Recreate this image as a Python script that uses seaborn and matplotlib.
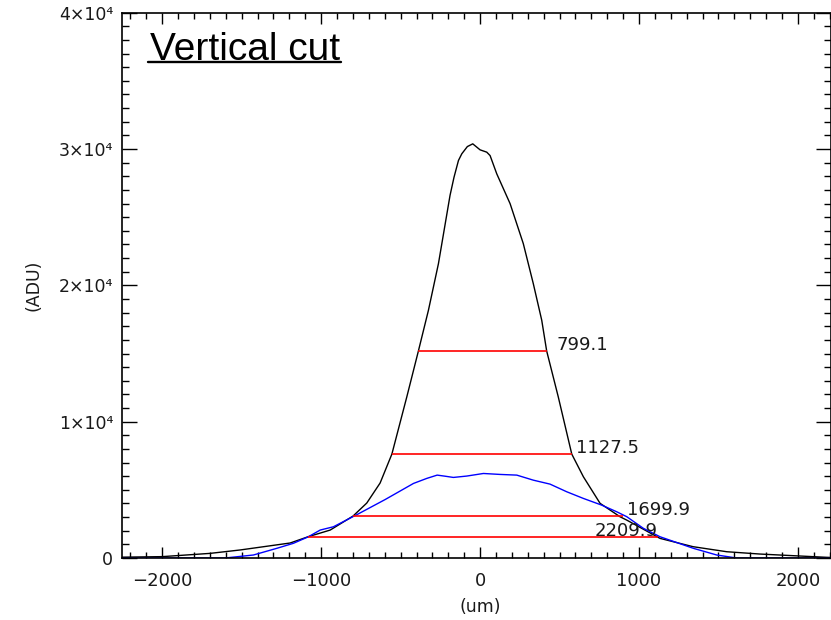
import numpy as np
import pandas as pd
import matplotlib
matplotlib.use("Agg")
import matplotlib.pyplot as plt
import seaborn as sns
from matplotlib.ticker import MultipleLocator, FixedLocator, FixedFormatter
from matplotlib.lines import Line2D

# ---------------- data ----------------
black_x = [-2255, -2000, -1698, -1509, -1195, -1082, -943, -799, -713, -629, -555,
           -461, -388, -325, -262, -189, -164, -136, -115, -80, -46, 0, 42, 63,
           105, 189, 272, 335, 388, 419, 492, 577, 650, 755, 880, 923, 1132,
           1340, 1552, 1761, 2180, 2205]
black_y = [60, 100, 340, 590, 1100, 1560, 2050, 3080, 4030, 5500, 7620,
           11820, 15190, 18170, 21590, 26600, 27930, 29160, 29650, 30180, 30380, 29940, 29770, 29520,
           28180, 25990, 23060, 20120, 17440, 15190, 11820, 7620, 5960, 4010, 3030, 2780, 1440,
           830, 460, 290, 50, 40]

blue_x = [-2255, -1604, -1426, -1279, -1174, -1080, -1006, -923, -780, -597, -419,
          -335, -270, -220, -168, -84, 21, 126, 231, 335, 440, 545, 650, 765,
          860, 923, 1027, 1132, 1342, 1489, 1614, 2205]
blue_y = [0, 0, 220, 710, 1080, 1560, 2050, 2290, 3150, 4290, 5470,
          5840, 6080, 6000, 5910, 6010, 6200, 6130, 6080, 5710, 5420, 4860, 4370, 3880,
          3390, 3030, 2180, 1560, 710, 220, 0, 0]

width_levels = [15190, 7620, 3080, 1560]
width_left = [-388, -555, -799, -1082]
width_right = [419, 577, 899, 1119]
width_labels = ["799.1", "1127.5", "1699.9", "2209.9"]

y_ticks = [0, 10000, 20000, 30000, 40000]
y_tick_labels = ["0", "1×10⁴", "2×10⁴", "3×10⁴", "4×10⁴"]

title_text = "Vertical cut"
x_label = "(um)"
y_label = "(ADU)"

# ---------------- style ----------------
sns.set_style("ticks")
plt.rcParams["font.family"] = ["DejaVu Sans"]

fig = plt.figure(figsize=(8.31, 6.20), dpi=100)
ax = fig.add_axes([121.7 / 831, 62 / 620, (830.5 - 121.7) / 831, (558 - 12.7) / 620])

df_black = pd.DataFrame({"x": black_x, "y": black_y})
df_blue = pd.DataFrame({"x": blue_x, "y": blue_y})
sns.lineplot(data=df_black, x="x", y="y", ax=ax, color="black", lw=1.0,
             estimator=None, sort=False)
sns.lineplot(data=df_blue, x="x", y="y", ax=ax, color="#0000ff", lw=1.0,
             estimator=None, sort=False)

ax.hlines(width_levels, width_left, width_right, colors="#ff0000", lw=1.2, zorder=3)

# width labels: offsets in pixels from the right end of each line
label_dx = [10, 4, 4, 0]
label_ha = ["left", "left", "left", "right"]
for lvl, xr, txt, dx, ha in zip(width_levels, width_right, width_labels, label_dx, label_ha):
    ax.annotate(txt, (xr, lvl), xytext=(dx * 0.72, 0.5), textcoords="offset points",
                ha=ha, va="baseline", fontsize=13, color="#1a1a1a")

ax.set_xlim(-2255, 2205)
ax.set_ylim(0, 40000)

ax.xaxis.set_major_locator(MultipleLocator(1000))
ax.xaxis.set_minor_locator(MultipleLocator(100))
ax.yaxis.set_major_locator(FixedLocator(y_ticks))
ax.yaxis.set_major_formatter(FixedFormatter(y_tick_labels))
ax.yaxis.set_minor_locator(MultipleLocator(1000))

ax.tick_params(which="both", direction="in", top=True, right=True, color="black", width=1.0)
ax.tick_params(axis="x", which="major", length=8, pad=10, labelsize=13, labelcolor="#1a1a1a")
ax.tick_params(axis="x", which="minor", length=4)
ax.tick_params(axis="y", which="major", length=11, pad=6, labelsize=12.5, labelcolor="#1a1a1a")
ax.tick_params(axis="y", which="minor", length=5)

for s in ax.spines.values():
    s.set_visible(True)
    s.set_color("black")
    s.set_linewidth(1.2)

ax.set_xlabel(x_label, fontsize=12.5, color="#1a1a1a")
ax.set_ylabel(y_label, fontsize=12.5, color="#1a1a1a")
ax.xaxis.set_label_coords(0.5055, -0.0899)
ax.xaxis.label.set_va("center")
ax.yaxis.set_label_coords(-0.125, 0.5)
ax.yaxis.label.set_va("center")

t = ax.text(0.04, 0.913, title_text, transform=ax.transAxes, ha="left", va="baseline",
            fontsize=28, family="Liberation Sans", color="black")

fig.canvas.draw()
bb = t.get_window_extent()
W, H = fig.bbox.width, fig.bbox.height
uy = (620 - 61.7) / 620
fig.add_artist(Line2D([(bb.x0 - 2) / W, (bb.x1 + 1) / W], [uy, uy],
                      transform=fig.transFigure, color="black", lw=1.7))

fig.savefig("out.png", dpi=100)
